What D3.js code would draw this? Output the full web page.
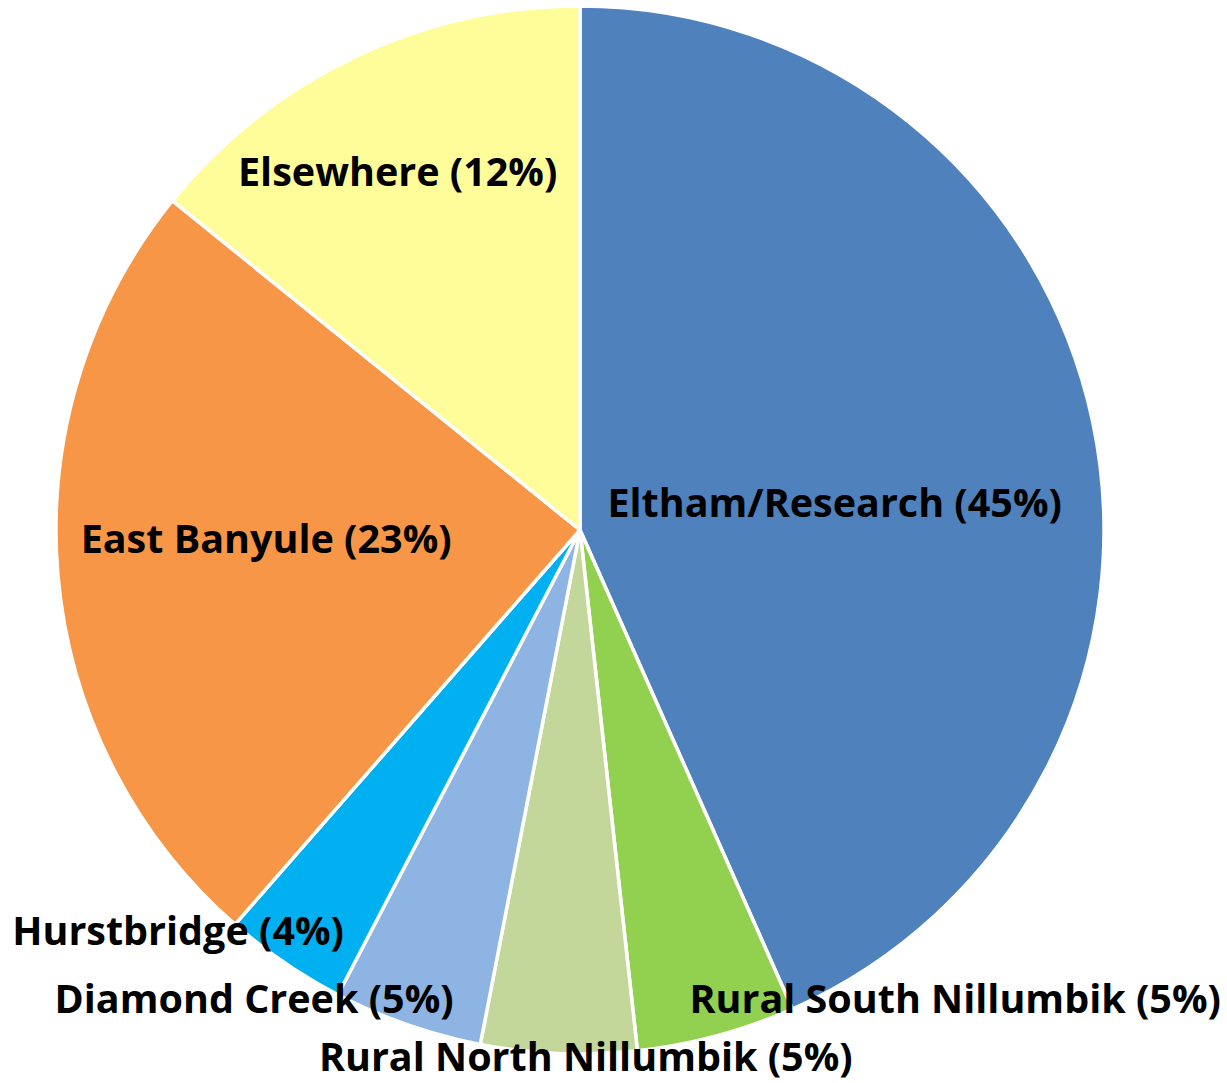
<!DOCTYPE html>
<html>
<head>
<meta charset="utf-8">
<script src="https://cdn.jsdelivr.net/npm/d3@7"></script>
<style>
  html, body { margin: 0; padding: 0; background: #fff; }
  svg { display: block; }
  .lbl { font-family: "Open Sans", "Noto Sans", sans-serif; font-weight: 700; font-size: 39.5px; fill: #000; }
</style>
</head>
<body>
<svg id="chart"></svg>
<script>
// slices, clockwise from 12 o'clock (shares, in %)
var areas  = ["Eltham/Research", "Rural South Nillumbik", "Rural North Nillumbik", "Diamond Creek", "Hurstbridge", "East Banyule", "Elsewhere"];
var shares = [43.4, 4.9, 4.8, 4.6, 3.8, 24.4, 14.2];
// the label texts as printed on the chart
var labels = ["Eltham/Research (45%)", "Rural South Nillumbik (5%)", "Rural North Nillumbik (5%)", "Diamond Creek (5%)", "Hurstbridge (4%)", "East Banyule (23%)", "Elsewhere (12%)"];

var colors = ["#4F81BD", "#92D050", "#C4D79B", "#8DB4E2", "#00B0F0", "#F79646", "#FFFD99"];

// label anchors, relative to centre, in radius units
var labelPos = [[0.486, -0.025], [0.716, 0.922], [0.011, 1.032], [-0.622, 0.922], [-0.767, 0.792], [-0.599, 0.044], [-0.348, -0.656]];

var width = 1227, height = 1083;
var cx = 580, cy = 530, radius = 524;

var svg = d3.select("#chart")
  .attr("width", width)
  .attr("height", height);

var data = areas.map(function(a, i) {
  return { area: a, value: shares[i], label: labels[i], color: colors[i], pos: labelPos[i] };
});

var pie = d3.pie()
  .sort(null)
  .value(function(d) { return d.value; });

var arc = d3.arc()
  .innerRadius(0)
  .outerRadius(radius);

var g = svg.append("g")
  .attr("transform", "translate(" + cx + "," + cy + ")");

g.selectAll("path")
  .data(pie(data))
  .join("path")
  .attr("d", arc)
  .attr("fill", function(d) { return d.data.color; })
  .attr("stroke", "#fff")
  .attr("stroke-width", 3.5)
  .attr("stroke-linejoin", "round");

g.selectAll("text")
  .data(data)
  .join("text")
  .attr("class", "lbl")
  .attr("text-anchor", "middle")
  .attr("x", function(d) { return d.pos[0] * radius; })
  .attr("y", function(d) { return d.pos[1] * radius; })
  .text(function(d) { return d.label; });
</script>
</body>
</html>
